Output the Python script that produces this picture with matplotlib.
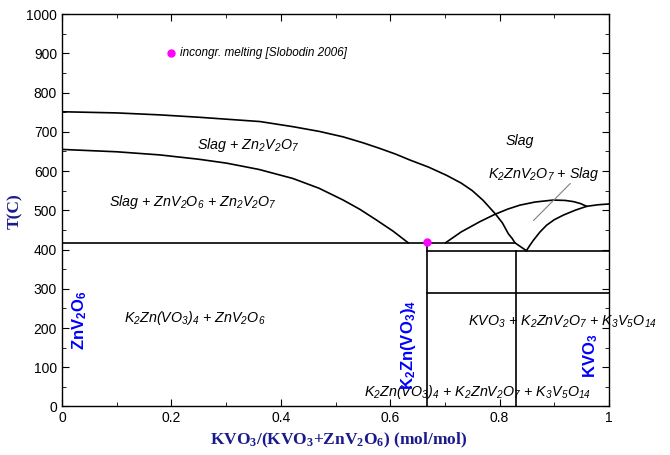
import numpy as np
import matplotlib
matplotlib.use("Agg")
import matplotlib.pyplot as plt

plt.rcParams['font.family'] = ['Liberation Sans', 'DejaVu Sans']
plt.rcParams['mathtext.default'] = 'regular'

# liquidus of Zn2V2O7 (from ZnV2O6 side down to the eutectic)
zn2_x = [0.0, 0.1, 0.179, 0.25, 0.362, 0.422, 0.47, 0.514, 0.55, 0.58, 0.61, 0.636,
         0.67, 0.703, 0.73, 0.75, 0.77, 0.792, 0.805, 0.816, 0.823, 0.828, 0.849]
zn2_t = [751, 748, 743, 737, 726, 713, 701, 687, 672, 658, 643, 628,
         610, 589, 569, 550, 525, 491, 468, 440, 428, 417, 397]
# ZnV2O6 liquidus
znv_x = [0.0, 0.1, 0.179, 0.25, 0.301, 0.36, 0.422, 0.47, 0.514, 0.545, 0.575, 0.605, 0.633]
znv_t = [655, 649, 641, 630, 620, 604, 581, 556, 526, 502, 475, 447, 417]
# K2ZnV2O7 liquidus
k2_x = [0.701, 0.73, 0.764, 0.792, 0.815, 0.837, 0.865, 0.898, 0.92, 0.935, 0.948, 0.959]
k2_t = [417, 445, 471, 490, 503, 513, 521, 526, 525, 522, 517, 510]
# KVO3 liquidus
kvo_x = [0.849, 0.855, 0.862, 0.874, 0.886, 0.9, 0.917, 0.938, 0.959, 0.98, 1.0]
kvo_t = [397, 410, 424, 445, 462, 476, 488, 500, 510, 514, 516]

# invariant lines
t_eut = 417
t_low = 397
t_sub = 290
x_k2zn = 0.667
x_k2znv = 0.83
slobodin_x = [0.2]
slobodin_t = [900]
point_x = [0.667]
point_t = [420]

fig = plt.figure(figsize=(6.7, 4.55), dpi=100)
ax = fig.add_axes([0.0925, 0.1066, 0.8165, 0.8626])

lw = 1.2
ax.plot(zn2_x, zn2_t, color='black', lw=lw)
ax.plot(znv_x, znv_t, color='black', lw=lw)
ax.plot(k2_x, k2_t, color='black', lw=lw)
ax.plot(kvo_x, kvo_t, color='black', lw=lw)
ax.plot([0, 0.828], [t_eut, t_eut], color='black', lw=lw)
ax.plot([x_k2zn, 1], [t_low, t_low], color='black', lw=lw)
ax.plot([x_k2zn, 1], [t_sub, t_sub], color='black', lw=lw)
ax.plot([x_k2zn, x_k2zn], [0, t_eut], color='black', lw=lw)
ax.plot([x_k2znv, x_k2znv], [0, t_low], color='black', lw=lw)
# leader line
ax.plot([0.862, 0.929], [474, 568], color='gray', lw=0.8)

ax.scatter(point_x, point_t, color='#ff00ff', s=25, zorder=5, clip_on=False)
ax.scatter(slobodin_x, slobodin_t, color='#ff00ff', s=25, zorder=5)
ax.text(0.215, 900, 'incongr. melting [Slobodin 2006]', style='italic', fontsize=8.5,
        va='center')

it = dict(style='italic', fontsize=10.3, ha='center', va='center')
ax.text(0.34, 665, r'Slag + Zn$_2$V$_2$O$_7$', **it)
ax.text(0.837, 676, 'Slag', **it)
ax.text(0.88, 592, r'K$_2$ZnV$_2$O$_7$ + Slag', **it)
ax.text(0.24, 520, r'Slag + ZnV$_2$O$_6$ + Zn$_2$V$_2$O$_7$', **it)
ax.text(0.243, 225, r'K$_2$Zn(VO$_3$)$_4$ + ZnV$_2$O$_6$', **it)
ax.text(0.914, 217, r'KVO$_3$ + K$_2$ZnV$_2$O$_7$ + K$_3$V$_5$O$_{14}$', clip_on=False, **it)
ax.text(0.76, 37, r'K$_2$Zn(VO$_3$)$_4$ + K$_2$ZnV$_2$O$_7$ + K$_3$V$_5$O$_{14}$', **it)

bl = dict(color='#0000ff', fontweight='bold', fontsize=12, rotation=90,
          ha='center', va='center')
ax.text(0.033, 220, r'ZnV$_2$O$_6$', **bl)
ax.text(0.633, 156, r'K$_2$Zn(VO$_3$)$_4$', **bl)
ax.text(0.967, 130, r'KVO$_3$', **bl)

ax.set_xlim(0, 1)
ax.set_ylim(0, 1000)
ax.set_xticks(np.arange(0, 1.01, 0.2))
ax.set_xticklabels(['0', '0.2', '0.4', '0.6', '0.8', '1'])
ax.set_xticks(np.arange(0, 1.01, 0.1), minor=True)
ax.set_yticks(np.arange(0, 1001, 100))
ax.set_yticks(np.arange(0, 1001, 50), minor=True)
ax.tick_params(which='both', direction='in', top=True, right=True, labelsize=10)
ax.tick_params(which='major', length=5)
ax.tick_params(which='minor', length=3)
for s in ax.spines.values():
    s.set_linewidth(1.0)

lab = dict(family='Liberation Serif', fontweight='bold', color='#1a1a8c', fontsize=12.5)
fig.text(339 / 670, 1 - 440 / 455, r'KVO$_3$/(KVO$_3$+ZnV$_2$O$_6$) (mol/mol)',
         ha='center', va='center', **lab)
fig.text(15 / 670, 1 - 211 / 455, 'T(C)', rotation=90, ha='center', va='center', **lab)

fig.savefig('out.png', dpi=100)
